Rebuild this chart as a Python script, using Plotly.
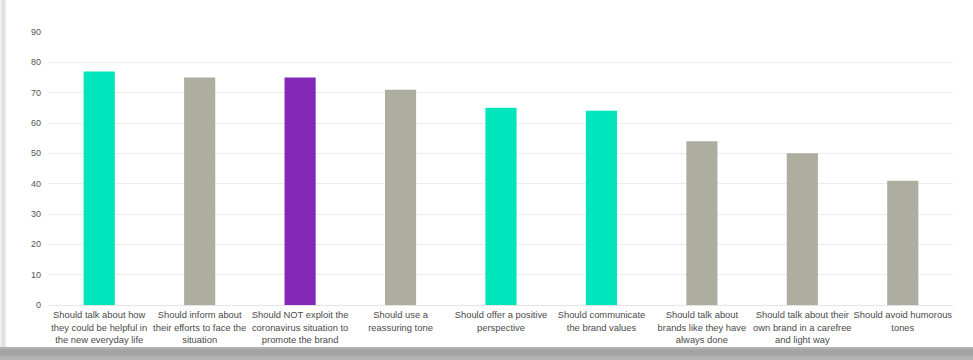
import plotly.graph_objects as go

categories = [
    "Should talk about how they could be helpful in the new everyday life",
    "Should inform about their efforts to face the situation",
    "Should NOT exploit the coronavirus situation to promote the brand",
    "Should use a reassuring tone",
    "Should offer a positive perspective",
    "Should communicate the brand values",
    "Should talk about brands like they have always done",
    "Should talk about their own brand in a carefree and light way",
    "Should avoid humorous tones",
]
tick_labels = [
    "Should talk about how<br>they could be helpful in<br>the new everyday life",
    "Should inform about<br>their efforts to face the<br>situation",
    "Should NOT exploit the<br>coronavirus situation to<br>promote the brand",
    "Should use a<br>reassuring tone",
    "Should offer a positive<br>perspective",
    "Should communicate<br>the brand values",
    "Should talk about<br>brands like they have<br>always done",
    "Should talk about their<br>own brand in a carefree<br>and light way",
    "Should avoid humorous<br>tones",
]
values = [77, 75, 75, 71, 65, 64, 54, 50, 41]
bar_colors = ["#00E5BB", "#ADADA0", "#8329B8", "#ADADA0", "#00E5BB",
              "#00E5BB", "#ADADA0", "#ADADA0", "#ADADA0"]
y_ticks = [0, 10, 20, 30, 40, 50, 60, 70, 80, 90]

fig = go.Figure(go.Bar(
    x=categories, y=values, marker=dict(color=bar_colors, line=dict(width=0)),
    hoverinfo="x+y",
))

# card shadow decoration (paper coords)
W, H = 973, 360
L, R, T, B = 49, 20, 32, 55
pw, ph = W - L - R, H - T - B
def px(x):
    return (x - L) / pw
def py(y):
    return (H - B - y) / ph

shapes = []
# bottom shadow band
bottom_cols = ["#b4b4b4", "#a6a6a6", "#a2a2a2", "#a4a4a4", "#a8a8a8", "#adadad", "#b2b2b2"]
y0 = 347
step = 13 / len(bottom_cols)
for i, c in enumerate(bottom_cols):
    shapes.append(dict(type="rect", xref="paper", yref="paper",
                       x0=px(0), x1=px(W), y0=py(y0 + i * step), y1=py(y0 + (i + 1) * step + 0.5),
                       fillcolor=c, line=dict(width=0), layer="below"))
# left shadow band
left_cols = ["#f2f2f2", "#eaeaea", "#e2e2e2", "#dcdcdc", "#e4e4e4", "#efefef", "#f8f8f8"]
for i, c in enumerate(left_cols):
    shapes.append(dict(type="rect", xref="paper", yref="paper",
                       x0=px(i), x1=px(i + 1), y0=py(347), y1=py(0),
                       fillcolor=c, line=dict(width=0), layer="below"))

fig.update_layout(
    width=W, height=H,
    margin=dict(l=L, r=R, t=T, b=B, pad=0),
    paper_bgcolor="white", plot_bgcolor="white",
    bargap=0.69,
    showlegend=False,
    font=dict(family="Liberation Sans, Arial, sans-serif", size=9, color="#555555"),
    shapes=shapes,
    xaxis=dict(
        tickmode="array", tickvals=categories, ticktext=tick_labels,
        showgrid=False, showline=False, ticks="", zeroline=False,
        tickfont=dict(size=9.4, color="#4a4a4a"), tickangle=0,
        ticklabelstandoff=3,
    ),
    yaxis=dict(
        range=[0, 90], tickmode="array", tickvals=y_ticks,
        showgrid=True, gridcolor="#ececec", gridwidth=1,
        zeroline=True, zerolinecolor="#e4e4e4", zerolinewidth=1,
        showline=False, ticks="", ticklabelstandoff=7,
        tickfont=dict(size=9, color="#555555"),
    ),
)

fig.write_html("out.html")
